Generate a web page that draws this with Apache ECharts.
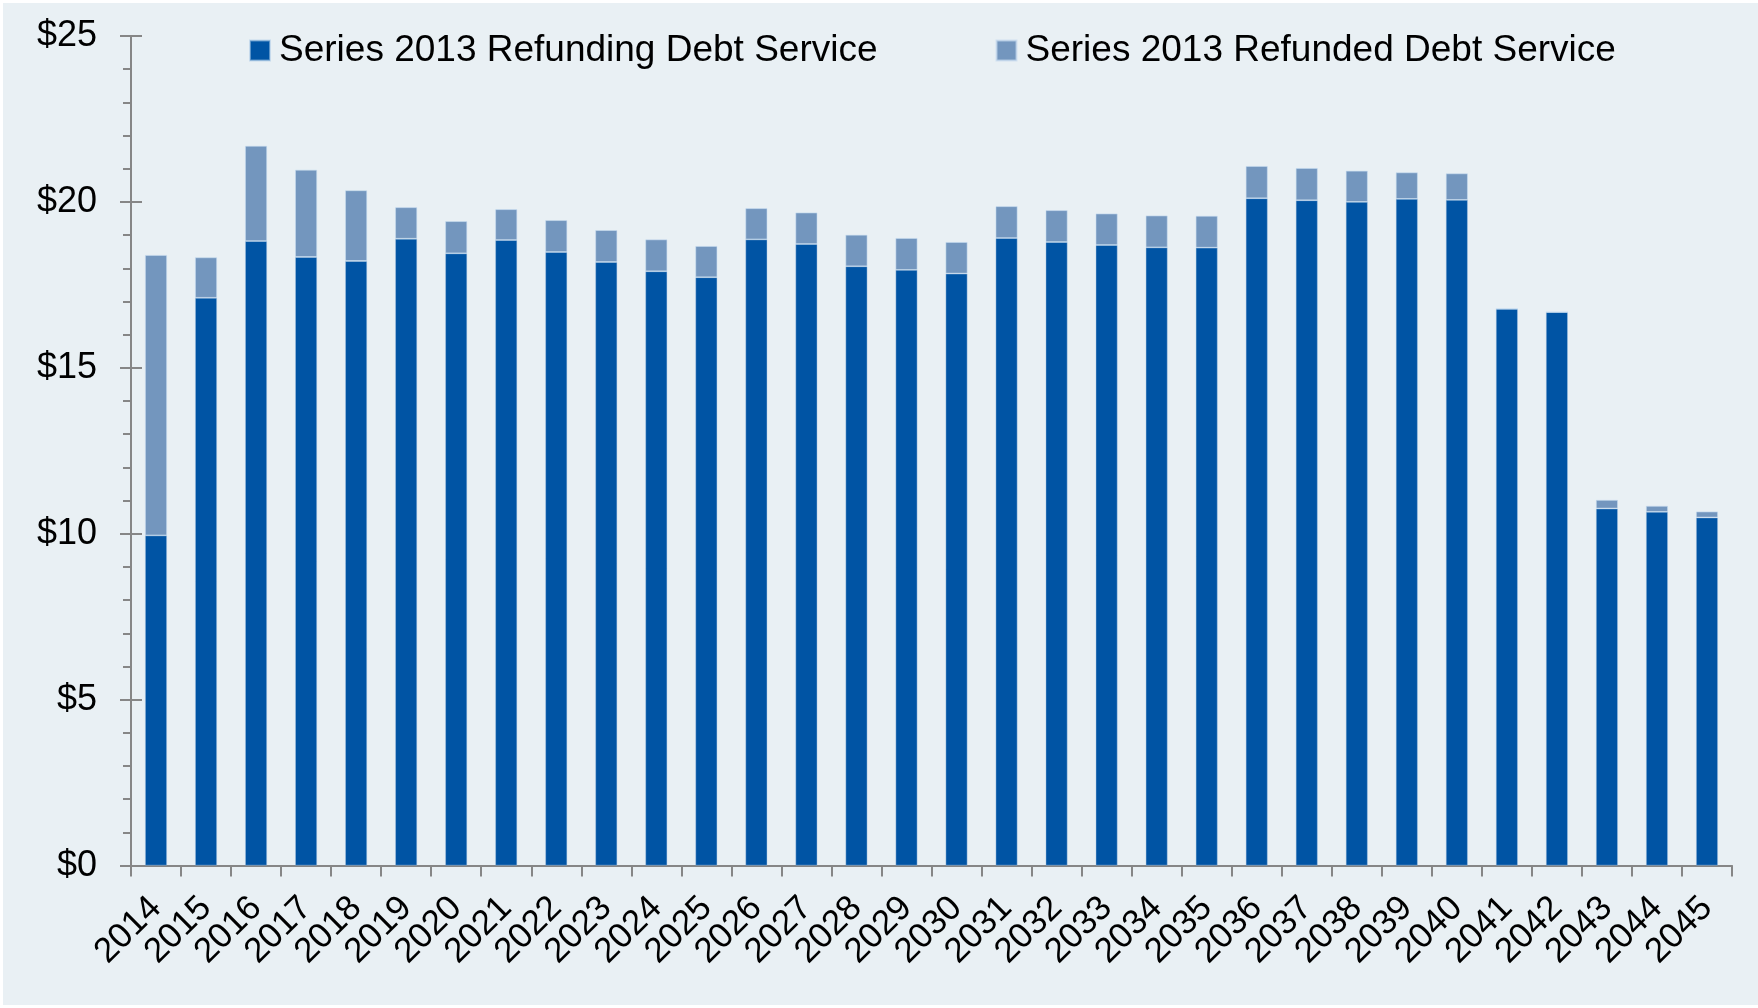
<!DOCTYPE html>
<html>
<head>
<meta charset="utf-8">
<script src="https://cdn.jsdelivr.net/npm/echarts@6/dist/echarts.min.js"></script>
<style>
  html, body { margin: 0; padding: 0; background: #ffffff; }
  #chart { position: absolute; left: 3px; top: 3px; width: 1755px; height: 1002px; background: #e9f0f4; }
</style>
</head>
<body>
<div id="chart"></div>
<script>
var years = ['2014', '2015', '2016', '2017', '2018', '2019', '2020', '2021', '2022', '2023',
    '2024', '2025', '2026', '2027', '2028', '2029', '2030', '2031', '2032', '2033',
    '2034', '2035', '2036', '2037', '2038', '2039', '2040', '2041', '2042', '2043',
    '2044', '2045']
// Series 2013 Refunding Debt Service ($M)
var refunding = [9.95, 17.11, 18.82, 18.34, 18.22, 18.89, 18.45, 18.85, 18.49, 18.19,
    17.91, 17.73, 18.87, 18.73, 18.06, 17.95, 17.84, 18.91, 18.79, 18.70,
    18.63, 18.62, 20.11, 20.05, 20.00, 20.09, 20.06, 16.78, 16.68, 10.76,
    10.66, 10.49]
// Series 2013 Refunded Debt Service ($M), stacked on top
var refunded = [8.45, 1.22, 2.87, 2.63, 2.13, 0.95, 0.97, 0.93, 0.96, 0.96,
    0.96, 0.94, 0.94, 0.95, 0.95, 0.96, 0.95, 0.96, 0.96, 0.95,
    0.96, 0.96, 0.97, 0.97, 0.94, 0.80, 0.80, 0, 0, 0.26,
    0.18, 0.18]
var yTicks = [0, 5, 10, 15, 20, 25]

var font = "'Liberation Sans', Arial, sans-serif"
var axisGray = '#868686'

var myChart = echarts.init(document.getElementById('chart'), null, { renderer: 'canvas' })

// two overlapping value axes so the major ticks cross the axis line
var valueAxis = function (inside, showLabel, showMinor) {
    return {
        type: 'value',
        position: 'left',
        min: yTicks[0],
        max: yTicks[yTicks.length - 1],
        interval: 5,
        axisLine: { show: !inside, lineStyle: { color: axisGray, width: 2 } },
        axisTick: { show: true, inside: inside, length: 11, lineStyle: { color: axisGray, width: 2 } },
        minorTick: { show: showMinor, splitNumber: 5, length: 8, lineStyle: { color: axisGray, width: 2 } },
        splitLine: { show: false },
        axisLabel: {
            show: showLabel,
            margin: 34,
            color: '#000',
            fontSize: 36,
            fontFamily: font,
            formatter: function (v) { return '$' + v }
        }
    }
}

myChart.setOption({
    backgroundColor: 'transparent',
    animation: false,
    textStyle: { fontFamily: font },
    legend: {
        left: 246,
        top: 29,
        padding: 0,
        itemWidth: 20,
        itemHeight: 20,
        itemGap: 118,
        icon: 'rect',
        textStyle: { fontSize: 37, color: '#000', fontFamily: font, padding: [0, 0, 0, 4] },
        data: ['Series 2013 Refunding Debt Service', 'Series 2013 Refunded Debt Service']
    },
    grid: {
        left: 128,
        right: 26,
        top: 33,
        bottom: 139.4,
        containLabel: false
    },
    xAxis: {
        type: 'category',
        data: years,
        boundaryGap: true,
        axisLine: { show: true, lineStyle: { color: axisGray, width: 2 } },
        axisTick: { show: true, length: 11, interval: 0, lineStyle: { color: axisGray, width: 2 } },
        axisLabel: {
            interval: 0,
            rotate: 45,
            margin: 37,
            color: '#000',
            fontSize: 35,
            fontFamily: font
        }
    },
    yAxis: [valueAxis(false, true, true), valueAxis(true, false, false)],
    series: [
        {
            name: 'Series 2013 Refunding Debt Service',
            type: 'bar',
            stack: 'ds',
            yAxisIndex: 0,
            barWidth: 22,
            data: refunding,
            itemStyle: { color: '#0054a4', borderColor: 'rgba(170,200,230,0.55)', borderWidth: 0.8 }
        },
        {
            name: 'Series 2013 Refunded Debt Service',
            type: 'bar',
            stack: 'ds',
            yAxisIndex: 0,
            barWidth: 22,
            data: refunded,
            itemStyle: { color: '#7396be', borderColor: 'rgba(200,220,240,0.7)', borderWidth: 0.8 }
        }
    ]
})
</script>
</body>
</html>
